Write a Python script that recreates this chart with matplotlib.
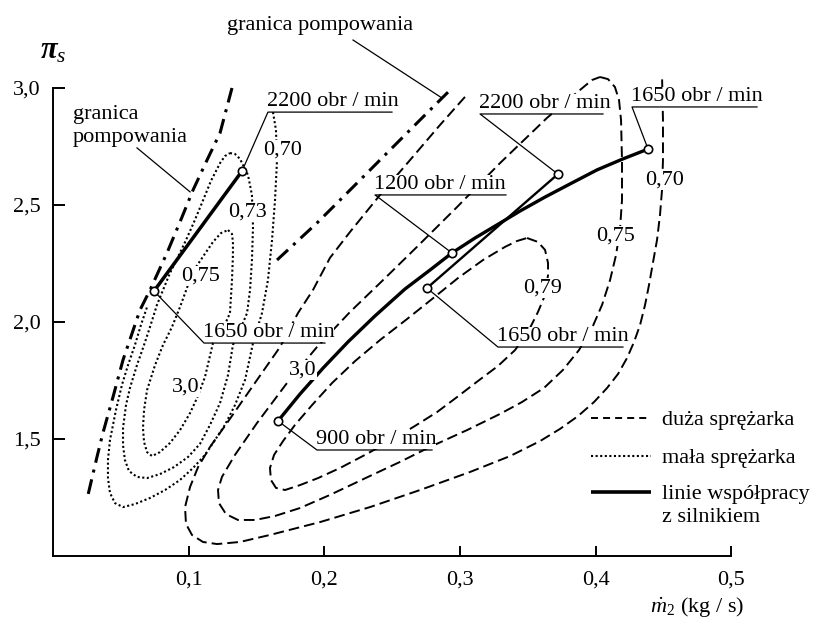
import matplotlib.pyplot as plt
from matplotlib.ticker import FixedLocator, FixedFormatter

plt.rcParams['font.family'] = 'Liberation Serif'
plt.rcParams['mathtext.fontset'] = 'custom'
plt.rcParams['mathtext.rm'] = 'Liberation Serif'
plt.rcParams['mathtext.it'] = 'Liberation Serif:italic'
plt.rcParams['mathtext.bf'] = 'Liberation Serif:bold:italic'

# --- small compressor efficiency islands (dotted) ---
small_070_x = [0.1621, 0.1643, 0.1651, 0.1636, 0.1614, 0.1584, 0.1540, 0.1474, 0.1415, 0.1341,
               0.1267, 0.1194, 0.1120, 0.1032, 0.0936, 0.0826, 0.0715, 0.0604, 0.0516, 0.0457,
               0.0420, 0.0405, 0.0405, 0.0420, 0.0464, 0.0508, 0.0553, 0.0604, 0.0648, 0.0693]
small_070_y = [2.897, 2.821, 2.692, 2.521, 2.350, 2.179, 2.038, 1.910, 1.752, 1.645,
               1.560, 1.496, 1.432, 1.376, 1.325, 1.282, 1.248, 1.222, 1.209, 1.226,
               1.269, 1.333, 1.410, 1.496, 1.624, 1.731, 1.816, 1.902, 1.987, 2.064]
small_073_x = [0.1304, 0.1341, 0.1378, 0.1437, 0.1466, 0.1474, 0.1466, 0.1452, 0.1430, 0.1378,
               0.1326, 0.1290, 0.1231, 0.1157, 0.1083, 0.0995, 0.0892, 0.0788, 0.0693, 0.0619,
               0.0560, 0.0530, 0.0516, 0.0516, 0.0538, 0.0567, 0.0619, 0.0671, 0.0715, 0.0766,
               0.0811, 0.0862, 0.0921, 0.0980, 0.1039, 0.1098, 0.1164, 0.1231, 0.1267, 0.1304]
small_073_y = [2.722, 2.718, 2.697, 2.628, 2.543, 2.406, 2.265, 2.137, 2.038, 1.966,
               1.902, 1.774, 1.654, 1.560, 1.479, 1.423, 1.380, 1.350, 1.333, 1.338,
               1.363, 1.410, 1.474, 1.547, 1.645, 1.718, 1.816, 1.902, 1.979, 2.073,
               2.137, 2.209, 2.278, 2.350, 2.427, 2.509, 2.603, 2.679, 2.709, 2.722]
small_075_x = [0.1290, 0.1319, 0.1326, 0.1326, 0.1319, 0.1304, 0.1275, 0.1245, 0.1179, 0.1120,
               0.1061, 0.1010, 0.0936, 0.0862, 0.0788, 0.0730, 0.0693, 0.0671, 0.0663, 0.0671,
               0.0693, 0.0752, 0.0811, 0.0877, 0.0936, 0.0995, 0.1054, 0.1113, 0.1179, 0.1238,
               0.1290]
small_075_y = [2.393, 2.376, 2.342, 2.286, 2.179, 2.038, 2.000, 1.966, 1.910, 1.765,
               1.675, 1.611, 1.538, 1.483, 1.444, 1.427, 1.444, 1.487, 1.547, 1.624,
               1.709, 1.816, 1.902, 1.979, 2.064, 2.158, 2.235, 2.286, 2.342, 2.380,
               2.393]

# --- large compressor efficiency islands (dashed) ---
big_070_x = [0.3036, 0.2852, 0.2631, 0.2410, 0.2189, 0.2041, 0.1916, 0.1805, 0.1673, 0.1503,
             0.1282, 0.1157, 0.1069, 0.1010, 0.0973, 0.0980, 0.1024, 0.1105, 0.1209, 0.1378,
             0.1599, 0.1968, 0.2336, 0.2705, 0.3073, 0.3368, 0.3589, 0.3736, 0.3869, 0.3987,
             0.4083, 0.4164, 0.4230, 0.4282, 0.4326, 0.4363, 0.4392, 0.4422, 0.4451, 0.4473,
             0.4488, 0.4495, 0.4495, 0.4488]
big_070_y = [2.962, 2.842, 2.692, 2.543, 2.385, 2.274, 2.137, 2.038, 1.893, 1.752,
             1.568, 1.466, 1.380, 1.295, 1.209, 1.137, 1.090, 1.060, 1.051, 1.060,
             1.090, 1.145, 1.209, 1.282, 1.359, 1.427, 1.491, 1.543, 1.598, 1.658,
             1.718, 1.778, 1.846, 1.915, 1.987, 2.073, 2.158, 2.256, 2.350, 2.457,
             2.564, 2.692, 2.863, 3.056]
big_075_x = [0.4031, 0.4090, 0.4141, 0.4171, 0.4186, 0.4193, 0.4193, 0.4178, 0.4149, 0.4105,
             0.4046, 0.3972, 0.3876, 0.3758, 0.3618, 0.3456, 0.3294, 0.3051, 0.2778, 0.2557,
             0.2336, 0.2041, 0.1820, 0.1636, 0.1489, 0.1363, 0.1275, 0.1223, 0.1216, 0.1245,
             0.1341, 0.1503, 0.1724, 0.1945, 0.2189, 0.2432, 0.2682, 0.2977, 0.3294, 0.3640,
             0.3847, 0.3972, 0.4031]
big_075_y = [3.047, 3.038, 3.004, 2.949, 2.863, 2.692, 2.521, 2.393, 2.286, 2.179,
             2.073, 1.974, 1.880, 1.795, 1.718, 1.658, 1.607, 1.538, 1.466, 1.402,
             1.342, 1.261, 1.205, 1.171, 1.154, 1.154, 1.179, 1.226, 1.282, 1.338,
             1.432, 1.568, 1.739, 1.893, 2.043, 2.179, 2.321, 2.491, 2.679, 2.872,
             2.974, 3.034, 3.047]
big_079_x = [0.3493, 0.3574, 0.3626, 0.3648, 0.3648, 0.3626, 0.3574, 0.3500, 0.3405, 0.3279,
             0.3132, 0.2977, 0.2830, 0.2668, 0.2483, 0.2299, 0.2115, 0.1953, 0.1820, 0.1710,
             0.1643, 0.1606, 0.1599, 0.1629, 0.1695, 0.1783, 0.1909, 0.2056, 0.2226, 0.2410,
             0.2601, 0.2793, 0.2985, 0.3169, 0.3331, 0.3419, 0.3493]
big_079_y = [2.359, 2.342, 2.308, 2.252, 2.201, 2.115, 2.043, 1.957, 1.880, 1.812,
             1.748, 1.679, 1.615, 1.556, 1.491, 1.432, 1.376, 1.333, 1.303, 1.282,
             1.291, 1.325, 1.376, 1.432, 1.491, 1.560, 1.645, 1.739, 1.833, 1.923,
             2.009, 2.098, 2.188, 2.265, 2.321, 2.346, 2.359]

# --- surge limits ---
surge_small_x = [0.1319, 0.1231, 0.1135, 0.1032, 0.0951, 0.0840, 0.0715, 0.0641, 0.0516, 0.0442,
                 0.0368, 0.0324, 0.0258]
surge_small_y = [3.000, 2.808, 2.692, 2.564, 2.449, 2.295, 2.137, 2.051, 1.838, 1.679,
                 1.526, 1.423, 1.261]
surge_big_x = [0.1651, 0.1945, 0.2115, 0.2461, 0.2704, 0.2926]
surge_big_y = [2.265, 2.423, 2.521, 2.722, 2.863, 2.991]

# --- engine operating lines ---
small_op_x = [0.0744, 0.1393]
small_op_y = [2.132, 2.645]
big_op_a_x = [0.1658, 0.1820, 0.1990, 0.2174, 0.2373, 0.2594, 0.2778, 0.2940, 0.3110, 0.3272,
              0.3441, 0.3626, 0.3810, 0.4009, 0.4200, 0.4385]
big_op_a_y = [1.577, 1.692, 1.803, 1.915, 2.026, 2.141, 2.222, 2.295, 2.359, 2.415,
              2.474, 2.534, 2.590, 2.650, 2.697, 2.739]
big_op_b_x = [0.2756, 0.3721]
big_op_b_y = [2.145, 2.632]

# efficiency labels
eff_labels = ['0,70', '0,73', '0,75', '3,0', '0,70', '0,75', '0,79', '3,0']
eff_x = [0.1695, 0.1430, 0.1091, 0.0980, 0.4510, 0.4142, 0.3611, 0.1842]
eff_y = [2.735, 2.470, 2.197, 1.722, 2.607, 2.368, 2.145, 1.795]

x_ticks = [0.1, 0.2, 0.3, 0.4, 0.5]
x_tick_labels = ['0,1', '0,2', '0,3', '0,4', '0,5']
y_ticks = [1.5, 2.0, 2.5, 3.0]
y_tick_labels = ['1,5', '2,0', '2,5', '3,0']

fig = plt.figure(figsize=(8.17, 6.19), dpi=100)
ax = fig.add_axes([0, 0, 1, 1])
ax.set_xlim(-0.039057, 0.563007)
ax.set_ylim(0.730769, 3.376068)
ax.patch.set_visible(False)

dotted = (0, (1, 1.2))
dashed = (0, (5.5, 2.6))
dashdot = (0, (4.9, 2.3, 1, 2.3))

for xs, ys in [(small_070_x, small_070_y), (small_073_x, small_073_y), (small_075_x, small_075_y)]:
    ax.plot(xs, ys, color='k', lw=1.5, ls=dotted, zorder=2)
for xs, ys in [(big_070_x, big_070_y), (big_075_x, big_075_y), (big_079_x, big_079_y)]:
    ax.plot(xs, ys, color='k', lw=1.4, ls=dashed, zorder=2)

ax.plot(surge_small_x, surge_small_y, color='k', lw=2.2, ls=dashdot, zorder=2)
ax.plot(surge_big_x, surge_big_y, color='k', lw=2.2, ls=dashdot, zorder=2)

ax.plot(small_op_x, small_op_y, color='k', lw=2.5, solid_capstyle='butt', zorder=3)
ax.plot(big_op_a_x, big_op_a_y, color='k', lw=2.4, solid_capstyle='butt',
        solid_joinstyle='round', zorder=3)
ax.plot(big_op_b_x, big_op_b_y, color='k', lw=1.7, solid_capstyle='butt', zorder=3)

for s, x, y in zip(eff_labels, eff_x, eff_y):
    ax.text(x, y, s, ha='center', va='center', fontsize=16, zorder=4,
            bbox=dict(fc='white', ec='none', pad=0.3))

# speed labels: point on line, elbow of leader, end of underline
rpm_labels = [
    ('2200 obr / min', (small_op_x[1], small_op_y[1]), (0.1584, 2.897), 0.2498),
    ('1650 obr / min', (small_op_x[0], small_op_y[0]), (0.1113, 1.910), 0.2004),
    ('2200 obr / min', (big_op_b_x[1], big_op_b_y[1]), (0.3147, 2.889), 0.4053),
    ('1200 obr / min', (big_op_a_x[7], big_op_a_y[7]), (0.2373, 2.543), 0.3338),
    ('1650 obr / min', (big_op_a_x[-1], big_op_a_y[-1]), (0.4267, 2.919), 0.5188),
    ('1650 obr / min', (big_op_b_x[0], big_op_b_y[0]), (0.3279, 1.893), 0.4200),
    ('900 obr / min', (big_op_a_x[0], big_op_a_y[0]), (0.1945, 1.453), 0.2793),
]
for text, (px, py), (ex, ey), ux in rpm_labels:
    ax.plot([px, ex, ux], [py, ey, ey], color='k', lw=0.9, zorder=5)
    ax.annotate(text, (ex, ey), xytext=(-1, 4.5), textcoords='offset points',
                ha='left', va='baseline', fontsize=16, zorder=4,
                bbox=dict(fc='white', ec='none', pad=0))
    ax.plot(px, py, 'o', ms=6, mfc='white', mec='k', mew=1.2, zorder=6)

# surge line captions
ax.text(0.0147, 2.838, 'granica\npompowania', ha='left', va='center', fontsize=16, linespacing=1.3)
ax.plot([0.0619, 0.1010], [2.744, 2.556], color='k', lw=0.9)
ax.text(0.1282, 3.269, 'granica pompowania', ha='left', va='center', fontsize=16)
ax.plot([0.2211, 0.2867], [3.205, 2.957], color='k', lw=0.9)

# axes
for side in ['top', 'right']:
    ax.spines[side].set_visible(False)
ax.spines['left'].set_position(('data', 0))
ax.spines['bottom'].set_position(('data', 1.0))
ax.spines['left'].set_bounds(1.0, 3.0)
ax.spines['bottom'].set_bounds(0, 0.5)
ax.spines['left'].set_linewidth(1.4)
ax.spines['bottom'].set_linewidth(1.4)
ax.xaxis.set_major_locator(FixedLocator(x_ticks))
ax.xaxis.set_major_formatter(FixedFormatter(x_tick_labels))
ax.yaxis.set_major_locator(FixedLocator(y_ticks))
ax.yaxis.set_major_formatter(FixedFormatter(y_tick_labels))
ax.tick_params(axis='x', direction='in', length=7.2, width=1.4, labelsize=16, pad=10.5)
ax.tick_params(axis='y', direction='in', length=8.6, width=1.4, labelsize=16, pad=9)

ax.text(0.0649, 0.9177, r'$\mathbf{\pi}_s$', transform=ax.transAxes, ha='center', va='center',
        fontsize=22)
ax.text(0.8531, 0.0194, r'$\dot{m}_{\mathit{2}}$ (kg / s)', transform=ax.transAxes,
        ha='center', va='center', fontsize=16)

# legend drawn by hand so the handle sits on the first text line
legend_rows = [
    ((0, (3.6, 2.6)), 1.4, 0.3247, 'duża sprężarka'),
    (dotted, 1.5, 0.2633, 'mała sprężarka'),
    ('-', 2.6, 0.2052, 'linie współpracy\nz silnikiem'),
]
for ls, lw, y, label in legend_rows:
    ax.plot([0.7234, 0.7968], [y, y], transform=ax.transAxes, color='k', ls=ls, lw=lw,
            solid_capstyle='butt')
    ax.text(0.8103, y + 0.0115, label, transform=ax.transAxes, ha='left', va='top',
            fontsize=16, linespacing=1.3)

fig.savefig('out.png', dpi=100)
